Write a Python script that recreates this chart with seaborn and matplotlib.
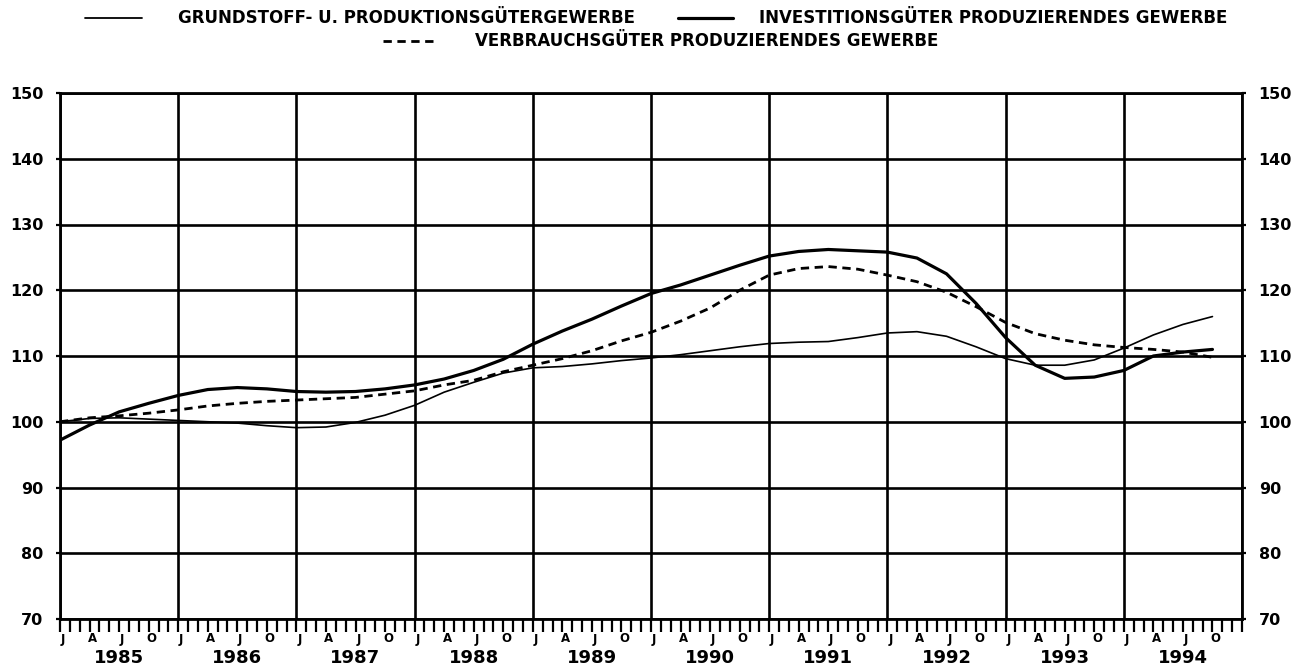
import numpy as np
import pandas as pd
import seaborn as sns
import matplotlib.pyplot as plt
from matplotlib.lines import Line2D
from matplotlib.ticker import MultipleLocator
import matplotlib.transforms as mtransforms

# ---------------- data (months since Jan 1985, quarterly readings) ----------------
months = list(range(0, 118, 3))

grundstoff = [100.0, 100.5, 100.6, 100.4, 100.2, 100.0, 99.8, 99.4, 99.1, 99.2,
              99.9, 101.0, 102.5, 104.5, 106.0, 107.4, 108.2, 108.4, 108.8, 109.3,
              109.7, 110.2, 110.8, 111.4, 111.9, 112.1, 112.2, 112.8, 113.5, 113.7,
              113.0, 111.4, 109.6, 108.6, 108.6, 109.4, 111.2, 113.2, 114.8, 116.0]

investition = [97.2, 99.5, 101.5, 102.8, 104.0, 104.9, 105.2, 105.0, 104.6, 104.5,
               104.6, 105.0, 105.6, 106.5, 107.8, 109.5, 111.8, 113.8, 115.6, 117.6,
               119.5, 120.8, 122.3, 123.8, 125.2, 125.9, 126.2, 126.0, 125.8, 124.9,
               122.5, 118.0, 112.8, 108.6, 106.6, 106.8, 107.8, 110.0, 110.6, 111.0]

verbrauch = [100.0, 100.6, 100.9, 101.3, 101.8, 102.4, 102.8, 103.1, 103.3, 103.5,
             103.7, 104.2, 104.7, 105.6, 106.3, 107.6, 108.6, 109.6, 110.8, 112.3,
             113.6, 115.3, 117.3, 120.0, 122.3, 123.3, 123.6, 123.2, 122.3, 121.3,
             119.7, 117.5, 115.1, 113.4, 112.4, 111.7, 111.3, 111.0, 110.6, 109.8]

years = [str(y) for y in range(1985, 1995)]
month_letters = ["J", "A", "J", "O"]
y_ticks = list(range(70, 151, 10))

labels = ["GRUNDSTOFF- U. PRODUKTIONSGÜTERGEWERBE",
          "INVESTITIONSGÜTER PRODUZIERENDES GEWERBE",
          "VERBRAUCHSGÜTER PRODUZIERENDES GEWERBE"]

# ---------------- figure ----------------
sns.set_theme(style="white")
plt.rcParams['font.family'] = ['DejaVu Sans']
plt.rcParams['font.weight'] = 'bold'
plt.rcParams['text.color'] = 'black'
plt.rcParams['xtick.color'] = 'black'
plt.rcParams['ytick.color'] = 'black'
plt.rcParams['axes.labelcolor'] = 'black'

W, H = 1308, 670
fig = plt.figure(figsize=(W / 100, H / 100), dpi=100)
fig.patch.set_facecolor('white')
L, R, T, B = 60, 1242, 93, 619
ax = fig.add_axes([L / W, (H - B) / H, (R - L) / W, (B - T) / H])

df = pd.DataFrame({"month": months, "g": grundstoff, "i": investition, "v": verbrauch})

sns.lineplot(data=df, x="month", y="g", ax=ax, color="black", lw=1.2, zorder=5)
sns.lineplot(data=df, x="month", y="i", ax=ax, color="black", lw=2.3, zorder=5)
sns.lineplot(data=df, x="month", y="v", ax=ax, color="black", lw=2.0,
             linestyle=(0, (3.0, 2.0)), zorder=5)

ax.set_xlim(0, 120)
ax.set_ylim(70, 150)
ax.set_xlabel("")
ax.set_ylabel("")

ax.set_xticks(range(0, 121, 12))
ax.xaxis.set_minor_locator(MultipleLocator(1))
ax.tick_params(axis='x', which='both', direction='out', length=9.5, width=1.6,
               color='black', labelbottom=False, bottom=True)

ax.set_yticks(y_ticks)
ax.set_yticklabels([str(v) for v in y_ticks])
ax.tick_params(axis='y', which='major', direction='out', length=3, width=1.6,
               color='black', labelcolor='black', left=True, right=True,
               labelleft=True, labelright=True, labelsize=11.5, pad=9)
for lab in ax.get_yticklabels():
    lab.set_fontweight('bold')
    lab.set_color('black')

ax.grid(True, which='major', color='black', lw=1.9, zorder=1)
ax.grid(False, which='minor')
for s in ax.spines.values():
    s.set_visible(True)
    s.set_color('black')
    s.set_linewidth(2.0)

# month letters and year labels
trans = mtransforms.blended_transform_factory(ax.transData, fig.transFigure)
for k, yr in enumerate(years):
    for m, letter in zip([0, 3, 6, 9], month_letters):
        ax.text(12 * k + m + 0.3, (H - 639) / H, letter, transform=trans, color='black',
                ha='center', va='center', fontsize=8.5, fontweight='bold')
    ax.text(12 * k + 6, (H - 658) / H, yr, transform=trans, color='black',
            ha='center', va='center', fontsize=13, fontweight='bold')

# legend
def fx(px):
    return px / W

def fy(py):
    return (H - py) / H

LFS = 12
fig.add_artist(Line2D([fx(85), fx(142)], [fy(18), fy(18)], color='black', lw=1.3))
fig.text(fx(178), fy(18), labels[0], ha='left', va='center', fontsize=LFS,
         fontweight='bold', color='black')
fig.add_artist(Line2D([fx(678), fx(733)], [fy(18), fy(18)], color='black', lw=2.3))
fig.text(fx(759), fy(18), labels[1], ha='left', va='center', fontsize=LFS,
         fontweight='bold', color='black')
fig.add_artist(Line2D([fx(383), fx(435)], [fy(41), fy(41)], color='black', lw=2.0,
                      linestyle=(0, (3.0, 2.0))))
fig.text(fx(475), fy(41), labels[2], ha='left', va='center', fontsize=LFS,
         fontweight='bold', color='black')

fig.savefig("out.png", dpi=100, facecolor='white')
